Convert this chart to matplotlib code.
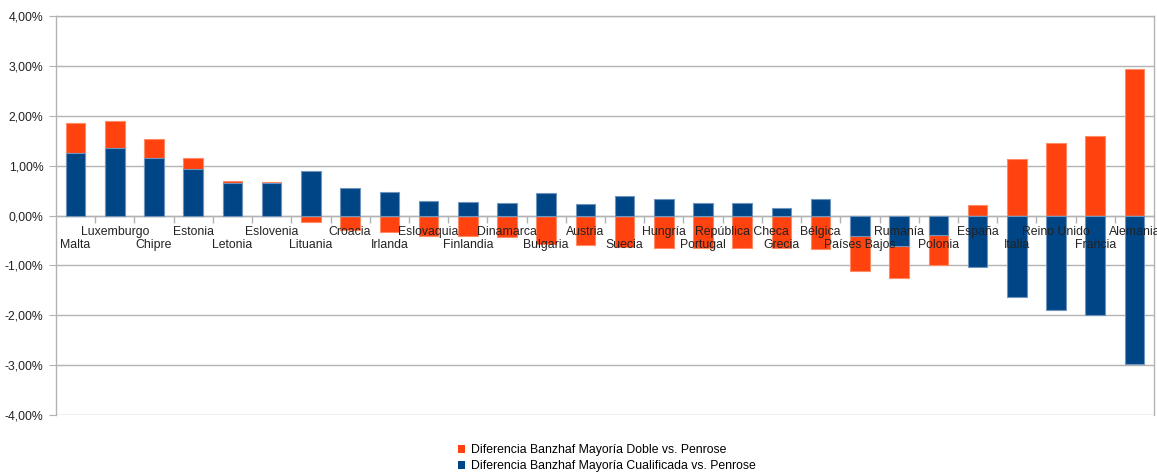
import matplotlib
matplotlib.use("Agg")
import matplotlib.pyplot as plt
from matplotlib.patches import Patch
from matplotlib.ticker import FixedLocator, FuncFormatter

plt.rcParams['font.family'] = ['Liberation Sans', 'DejaVu Sans']

paises = ["Malta", "Luxemburgo", "Chipre", "Estonia", "Letonia", "Eslovenia",
          "Lituania", "Croacia", "Irlanda", "Eslovaquia", "Finlandia", "Dinamarca",
          "Bulgaria", "Austria", "Suecia", "Hungría", "Portugal", "República Checa",
          "Grecia", "Bélgica", "Países Bajos", "Rumanía", "Polonia", "España",
          "Italia", "Reino Unido", "Francia", "Alemania"]

# Diferencias en puntos porcentuales
mayoria_doble = [1.86, 1.89, 1.53, 1.15, 0.70, 0.68, -0.13, -0.30, -0.33, -0.41,
                 -0.41, -0.43, -0.57, -0.60, -0.63, -0.65, -0.66, -0.66, -0.66, -0.67,
                 -1.12, -1.25, -1.00, 0.22, 1.14, 1.45, 1.60, 2.93]
mayoria_cualificada = [1.25, 1.35, 1.15, 0.93, 0.65, 0.65, 0.90, 0.55, 0.47, 0.29,
                       0.28, 0.25, 0.45, 0.23, 0.40, 0.34, 0.25, 0.25, 0.16, 0.33,
                       -0.42, -0.62, -0.39, -1.03, -1.63, -1.90, -2.00, -2.98]

etiqueta_doble = "Diferencia Banzhaf Mayoría Doble vs. Penrose"
etiqueta_cualificada = "Diferencia Banzhaf Mayoría Cualificada vs. Penrose"

naranja = "#ff420e"
azul = "#004586"
gris = "#b3b3b3"

W, H = 1157, 475
fig = plt.figure(figsize=(W / 100, H / 100), dpi=100)
ax = fig.add_axes([56 / W, (H - 415) / H, (1154 - 56) / W, (415 - 16) / H])

x = list(range(len(paises)))
ax.bar(x, mayoria_doble, width=0.5, color=naranja, edgecolor="#ff8a66",
       linewidth=0.8, zorder=2)
ax.bar(x, mayoria_cualificada, width=0.5, color=azul, edgecolor="#6f95bd",
       linewidth=0.8, zorder=3)

ax.set_xlim(-0.5, len(paises) - 0.5)
ax.set_ylim(-4, 4)

# Eje Y: líneas de cuadrícula cada 1 %
ax.yaxis.set_major_locator(FixedLocator([-4, -3, -2, -1, 0, 1, 2, 3, 4]))
ax.yaxis.set_major_formatter(FuncFormatter(lambda v, p: f"{v:.2f}%".replace(".", ",")))
ax.tick_params(axis="y", length=5, color=gris, labelsize=8.8, pad=4,
               labelcolor="#222222")
ax.grid(axis="y", color=gris, linewidth=1.0, zorder=0)
ax.set_axisbelow(True)

# Eje X situado en el cero, con marcas entre categorías
ax.spines["bottom"].set_position(("data", 0))
ax.xaxis.set_major_locator(FixedLocator([]))
ax.xaxis.set_minor_locator(FixedLocator([i + 0.5 for i in x[:-1]]))
ax.tick_params(axis="x", which="minor", length=5, color=gris, width=1.0)
for lado in ["left", "right", "top", "bottom"]:
    ax.spines[lado].set_color(gris)
    ax.spines[lado].set_linewidth(1.0)

# Nombres de países en dos filas alternas, por encima de las barras
for i, nombre in enumerate(paises):
    fila_y = -0.60 if i % 2 == 0 else -0.34
    ax.text(i, fila_y, nombre, ha="center", va="center", fontsize=8.8,
            color="#222222", zorder=10, clip_on=False)

handles = [Patch(facecolor=naranja, edgecolor="none", label=etiqueta_doble),
           Patch(facecolor=azul, edgecolor="none", label=etiqueta_cualificada)]
fig.legend(handles=handles, loc="upper left",
           bbox_to_anchor=(458 / W, 1 - 444 / H), frameon=False,
           fontsize=8.8, handlelength=0.6, handleheight=0.6,
           handletextpad=0.5, labelspacing=0.35, borderaxespad=0,
           borderpad=0)

fig.savefig("out.png", dpi=100, facecolor="white")
